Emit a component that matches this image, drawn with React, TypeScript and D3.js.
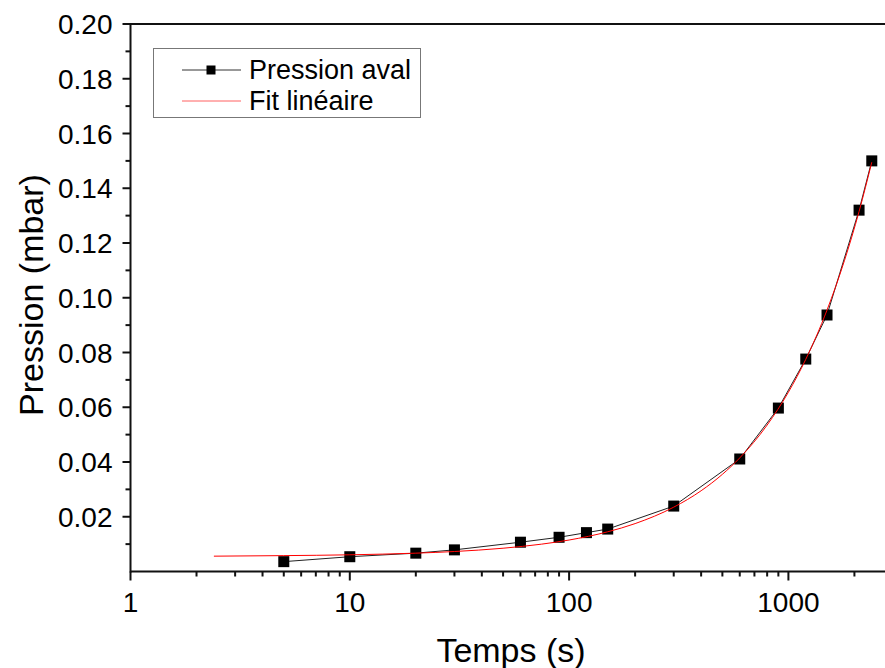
import React from "react";
import * as d3 from "d3";

const timeValues = [5, 10, 20, 30, 60, 90, 120, 150, 300, 600, 900, 1200, 1500, 2100, 2400];
const pressureValues = [0.0036, 0.0054, 0.0067, 0.0079, 0.0107, 0.0125, 0.0142, 0.0155, 0.0239, 0.0411, 0.0597, 0.0776, 0.0937, 0.132, 0.150];

const fitTime = [2.4, 5, 10, 20, 30, 50, 75, 100, 150, 200, 300, 400, 500, 600, 800, 1000, 1200, 1500, 1800, 2100, 2400];
const fitPressure = [0.0056, 0.0058, 0.0061, 0.0067, 0.0073, 0.0085, 0.0100, 0.0115, 0.0145, 0.0175, 0.0235, 0.0295, 0.0355, 0.0415, 0.0535, 0.0655, 0.0775, 0.0955, 0.1135, 0.1315, 0.1495];

const yTickValues = [0.02, 0.04, 0.06, 0.08, 0.1, 0.12, 0.14, 0.16, 0.18, 0.2];
const yTickLabels = ["0.02", "0.04", "0.06", "0.08", "0.10", "0.12", "0.14", "0.16", "0.18", "0.20"];
const xTickValues = [1, 10, 100, 1000];
const xTickLabels = ["1", "10", "100", "1000"];
const legendLabels = ["Pression aval", "Fit linéaire"];

const W = 885;
const H = 668;
const FONT = "Arial, 'Liberation Sans', sans-serif";

export default function App() {
  const left = 130.5;
  const right = 885;
  const top = 24;
  const bottom = 571.5;
  const x = d3.scaleLog().domain([1, 1000]).range([left, 788.4]);
  const y = d3.scaleLinear().domain([0, 0.2]).range([bottom, top]);

  const xMax = x.invert(right);
  const minorX: number[] = [];
  for (let d = 1; d <= 1000; d *= 10) {
    for (let k = 2; k <= 9; k++) {
      const v = d * k;
      if (v < xMax) minorX.push(v);
    }
  }
  const minorY: number[] = [];
  for (let i = 1; i < 20; i += 2) minorY.push(i * 0.01);

  const dataPts = timeValues.map((t, i) => [t, pressureValues[i]] as [number, number]);
  const fitPts = fitTime.map((t, i) => [t, fitPressure[i]] as [number, number]);
  const line = d3
    .line<[number, number]>()
    .x((d) => x(d[0]))
    .y((d) => y(d[1]));
  const fitLine = d3
    .line<[number, number]>()
    .x((d) => x(d[0]))
    .y((d) => y(d[1]))
    .curve(d3.curveMonotoneX);

  const ms = 11;
  return (
    <svg
      width={W}
      height={H}
      style={{ position: "absolute", left: 0, top: 0, background: "#fff" }}
      fontFamily={FONT}
    >
      <rect x={0} y={0} width={W} height={H} fill="#fff" />
      {/* data line */}
      <path d={line(dataPts) || ""} fill="none" stroke="#222" strokeWidth={1} />
      {dataPts.map((d, i) => (
        <rect
          key={i}
          x={x(d[0]) - ms / 2}
          y={y(d[1]) - ms / 2}
          width={ms}
          height={ms}
          fill="#000"
        />
      ))}
      <path d={fitLine(fitPts) || ""} fill="none" stroke="#ff0000" strokeWidth={1} />

      {/* axes */}
      <line x1={left} x2={right} y1={top} y2={top} stroke="#111" strokeWidth={2} />
      <line x1={left} x2={right} y1={bottom} y2={bottom} stroke="#111" strokeWidth={2} />
      <line x1={left} x2={left} y1={top - 1} y2={bottom + 1} stroke="#111" strokeWidth={2} />

      {yTickValues.map((v, i) => (
        <g key={"yt" + i}>
          <line x1={left - 8} x2={left} y1={y(v)} y2={y(v)} stroke="#111" strokeWidth={2} />
          <text x={left - 18} y={y(v) + 10} fontSize={28} textAnchor="end" fill="#000">
            {yTickLabels[i]}
          </text>
        </g>
      ))}
      {minorY.map((v, i) => (
        <line key={"ym" + i} x1={left - 5} x2={left} y1={y(v)} y2={y(v)} stroke="#111" strokeWidth={2} />
      ))}
      {xTickValues.map((v, i) => (
        <g key={"xt" + i}>
          <line x1={x(v)} x2={x(v)} y1={bottom} y2={bottom + 9} stroke="#111" strokeWidth={2} />
          <text x={x(v)} y={bottom + 40} fontSize={28} textAnchor="middle" fill="#000">
            {xTickLabels[i]}
          </text>
        </g>
      ))}
      {minorX.map((v, i) => (
        <line key={"xm" + i} x1={x(v)} x2={x(v)} y1={bottom} y2={bottom + 5} stroke="#111" strokeWidth={2} />
      ))}

      {/* axis titles */}
      <text x={511} y={662} fontSize={34} textAnchor="middle" fill="#000">
        Temps (s)
      </text>
      <text
        transform={`translate(43, 295) rotate(-90)`}
        fontSize={34}
        textAnchor="middle"
        fill="#000"
      >
        Pression (mbar)
      </text>

      {/* legend */}
      <rect x={153.5} y={48.5} width={267} height={69} fill="#fff" stroke="#777" strokeWidth={1} />
      <line x1={182} x2={241} y1={70} y2={70} stroke="#333" strokeWidth={1} />
      <rect x={206.5} y={65.5} width={9} height={9} fill="#000" />
      <text x={249} y={79} fontSize={27} fill="#000">
        {legendLabels[0]}
      </text>
      <line x1={182} x2={241} y1={101} y2={101} stroke="#ff6060" strokeWidth={1} />
      <text x={249} y={110} fontSize={27} fill="#000">
        {legendLabels[1]}
      </text>
    </svg>
  );
}
